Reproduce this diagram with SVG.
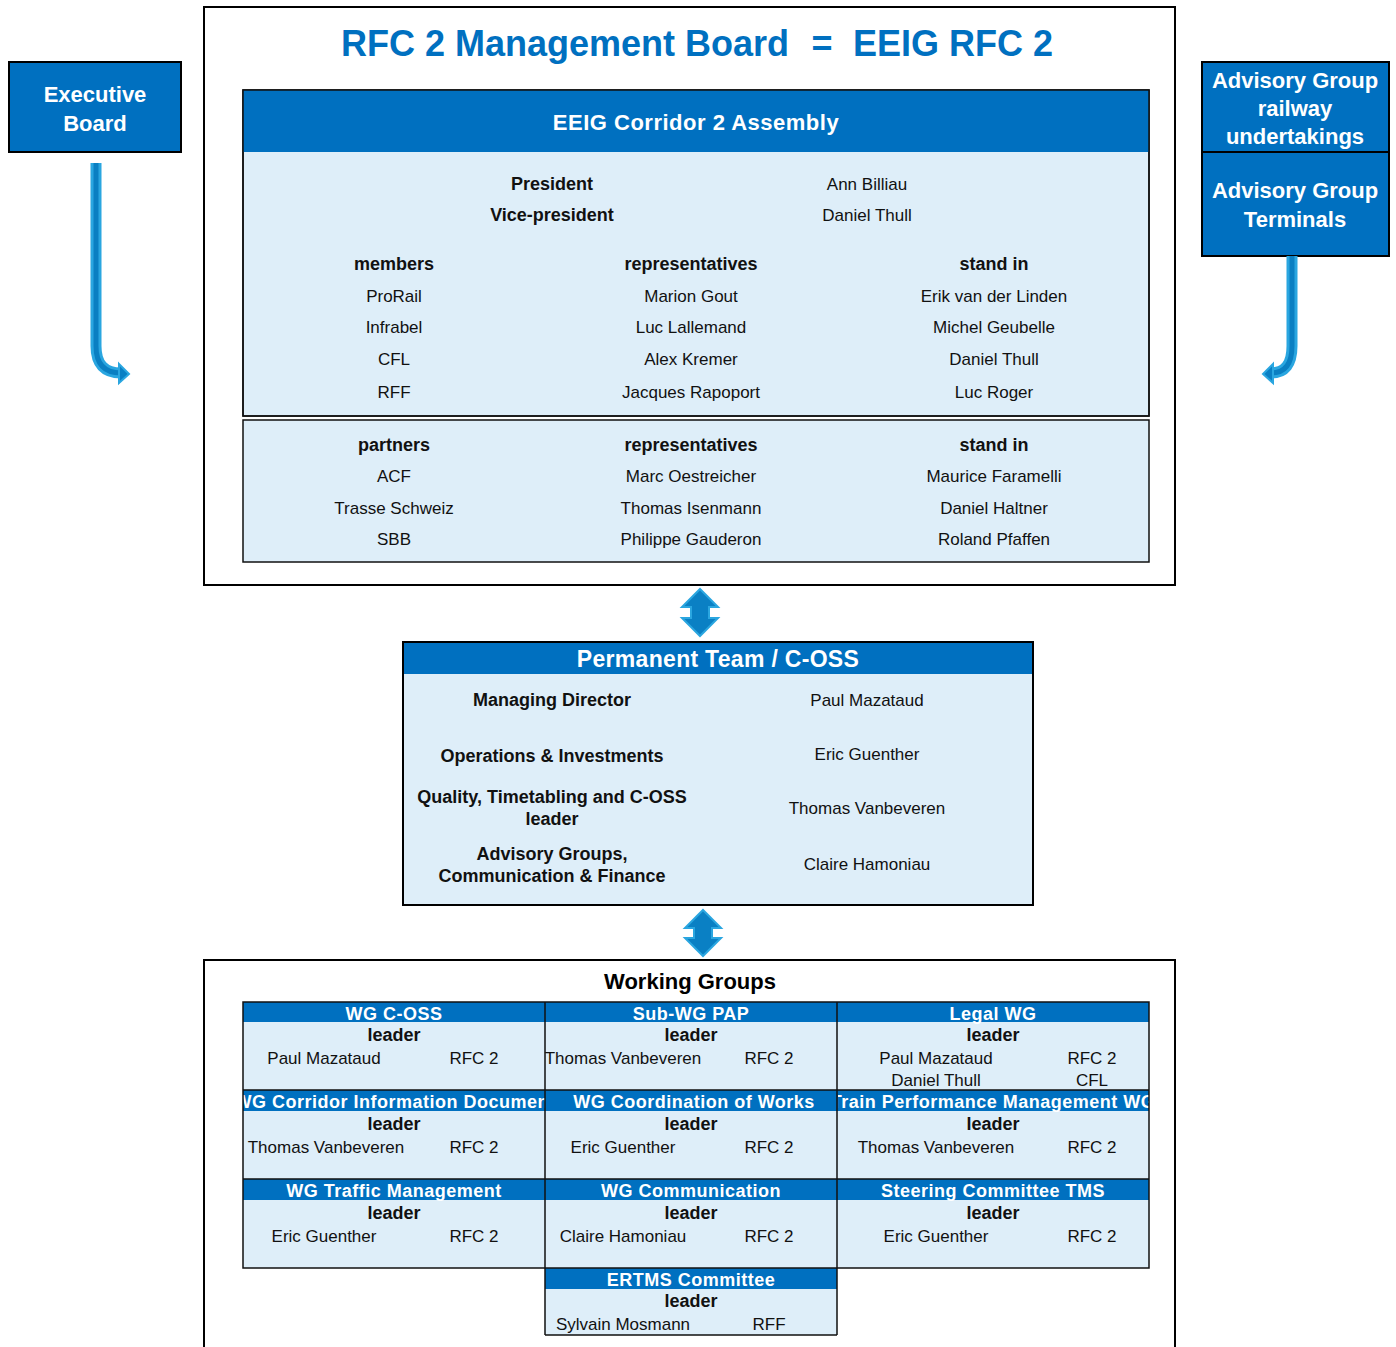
<svg xmlns="http://www.w3.org/2000/svg" width="1396" height="1347" viewBox="0 0 1396 1347">
<style>
text{font-family:"Liberation Sans",Arial,sans-serif;text-anchor:middle}
.r{font-size:17px;fill:#111}
.b{font-size:18px;font-weight:bold;fill:#111}
.hw{font-size:18px;font-weight:bold;fill:#fff;letter-spacing:0.5px}
.big{font-size:22px;font-weight:bold;fill:#fff}
.wgt{font-size:22px;font-weight:bold;fill:#000}
.title{font-size:36px;font-weight:bold;fill:#0070C0}
.blue{fill:#0070C0}
.lb{fill:#DEEEF9}
.ln{fill:none;stroke:#111;stroke-width:1.5}
.box{fill:none;stroke:#000;stroke-width:2}
.aro{fill:none;stroke:#2AA6E0;stroke-width:11;stroke-linecap:butt}
.ari{fill:none;stroke:#0A7FC2;stroke-width:5}
.ah{fill:#0A80C4;stroke:#2AA6E0;stroke-width:2;stroke-linejoin:miter}
</style>
<defs>
<clipPath id="c1"><rect x="243" y="1002" width="302" height="88"/></clipPath>
<clipPath id="c2"><rect x="545" y="1002" width="292" height="88"/></clipPath>
<clipPath id="c3"><rect x="837" y="1002" width="312" height="88"/></clipPath>
<clipPath id="c4"><rect x="243" y="1090" width="302" height="89"/></clipPath>
<clipPath id="c5"><rect x="545" y="1090" width="292" height="89"/></clipPath>
<clipPath id="c6"><rect x="838" y="1090" width="311" height="89"/></clipPath>
</defs>

<g id="executive-board">
<rect x="9" y="62" width="172" height="90" class="blue" stroke="#000" stroke-width="2"/>
<text x="95" y="102" class="big">Executive</text>
<text x="95" y="131" class="big">Board</text>
</g>

<g id="advisory-ru">
<rect x="1202" y="62" width="187" height="90" class="blue" stroke="#000" stroke-width="2"/>
<text x="1295" y="88" class="big">Advisory Group</text>
<text x="1295" y="116" class="big">railway</text>
<text x="1295" y="144" class="big">undertakings</text>
</g>
<g id="advisory-terminals">
<rect x="1202" y="152" width="187" height="104" class="blue" stroke="#000" stroke-width="2"/>
<text x="1295" y="198" class="big">Advisory Group</text>
<text x="1295" y="227" class="big">Terminals</text>
</g>

<g id="management-board">
<rect x="204" y="7" width="971" height="578" fill="#fff" class="box"/>
<text x="565" y="56" class="title">RFC 2 Management Board</text>
<text x="822" y="56" class="title">=</text>
<text x="953" y="56" class="title">EEIG RFC 2</text>
</g>

<g id="assembly">
<rect x="243" y="90" width="906" height="326" class="lb" stroke="#111" stroke-width="1.5"/>
<rect x="243" y="90" width="906" height="62" class="blue"/>
<rect x="243" y="90" width="906" height="326" class="ln"/>
<text x="696" y="130" class="big" letter-spacing="0.5">EEIG Corridor 2 Assembly</text>
<text x="552" y="190" class="b">President</text>
<text x="867" y="190" class="r">Ann Billiau</text>
<text x="552" y="221" class="b">Vice-president</text>
<text x="867" y="221" class="r">Daniel Thull</text>
<text x="394" y="270" class="b">members</text>
<text x="691" y="270" class="b">representatives</text>
<text x="994" y="270" class="b">stand in</text>
<text x="394" y="302" class="r">ProRail</text>
<text x="691" y="302" class="r">Marion Gout</text>
<text x="994" y="302" class="r">Erik van der Linden</text>
<text x="394" y="333" class="r">Infrabel</text>
<text x="691" y="333" class="r">Luc Lallemand</text>
<text x="994" y="333" class="r">Michel Geubelle</text>
<text x="394" y="365" class="r">CFL</text>
<text x="691" y="365" class="r">Alex Kremer</text>
<text x="994" y="365" class="r">Daniel Thull</text>
<text x="394" y="398" class="r">RFF</text>
<text x="691" y="398" class="r">Jacques Rapoport</text>
<text x="994" y="398" class="r">Luc Roger</text>
</g>

<g id="partners">
<rect x="243" y="420" width="906" height="142" class="lb" stroke="#111" stroke-width="1.5"/>
<text x="394" y="451" class="b">partners</text>
<text x="691" y="451" class="b">representatives</text>
<text x="994" y="451" class="b">stand in</text>
<text x="394" y="482" class="r">ACF</text>
<text x="691" y="482" class="r">Marc Oestreicher</text>
<text x="994" y="482" class="r">Maurice Faramelli</text>
<text x="394" y="514" class="r">Trasse Schweiz</text>
<text x="691" y="514" class="r">Thomas Isenmann</text>
<text x="994" y="514" class="r">Daniel Haltner</text>
<text x="394" y="545" class="r">SBB</text>
<text x="691" y="545" class="r">Philippe Gauderon</text>
<text x="994" y="545" class="r">Roland Pfaffen</text>
</g>

<g id="permanent-team">
<rect x="403" y="642" width="630" height="263" class="lb"/>
<rect x="403" y="642" width="630" height="32" class="blue"/>
<rect x="403" y="642" width="630" height="263" class="box"/>
<text x="718" y="667" class="big" style="font-size:23px" letter-spacing="0.3">Permanent Team / C-OSS</text>
<text x="552" y="706" class="b">Managing Director</text>
<text x="867" y="706" class="r">Paul Mazataud</text>
<text x="552" y="762" class="b">Operations &amp; Investments</text>
<text x="867" y="760" class="r">Eric Guenther</text>
<text x="552" y="803" class="b">Quality, Timetabling and C-OSS</text>
<text x="552" y="825" class="b">leader</text>
<text x="867" y="814" class="r">Thomas Vanbeveren</text>
<text x="552" y="860" class="b">Advisory Groups,</text>
<text x="552" y="882" class="b">Communication &amp; Finance</text>
<text x="867" y="870" class="r">Claire Hamoniau</text>
</g>

<g id="working-groups">
<path d="M204,1350 V960 H1175 V1350" class="box"/>
<text x="690" y="989" class="wgt">Working Groups</text>
</g>

<g id="wg-coss">
<rect x="243" y="1002" width="302" height="88" class="lb"/>
<rect x="243" y="1002" width="302" height="20" class="blue"/>
<text x="394" y="1020" class="hw" clip-path="url(#c1)">WG C-OSS</text>
<text x="394" y="1041" class="b">leader</text>
<text x="324" y="1064" class="r">Paul Mazataud</text>
<text x="474" y="1064" class="r">RFC 2</text>
</g>
<g id="subwg-pap">
<rect x="545" y="1002" width="292" height="88" class="lb"/>
<rect x="545" y="1002" width="292" height="20" class="blue"/>
<text x="691" y="1020" class="hw" clip-path="url(#c2)">Sub-WG PAP</text>
<text x="691" y="1041" class="b">leader</text>
<text x="623" y="1064" class="r">Thomas Vanbeveren</text>
<text x="769" y="1064" class="r">RFC 2</text>
</g>
<g id="legal-wg">
<rect x="837" y="1002" width="312" height="88" class="lb"/>
<rect x="837" y="1002" width="312" height="20" class="blue"/>
<text x="993" y="1020" class="hw" clip-path="url(#c3)">Legal WG</text>
<text x="993" y="1041" class="b">leader</text>
<text x="936" y="1064" class="r">Paul Mazataud</text>
<text x="1092" y="1064" class="r">RFC 2</text>
<text x="936" y="1086" class="r">Daniel Thull</text>
<text x="1092" y="1086" class="r">CFL</text>
</g>
<g id="wg-cid">
<rect x="243" y="1090" width="302" height="89" class="lb"/>
<rect x="243" y="1090" width="302" height="21" class="blue"/>
<text x="395" y="1108" class="hw" clip-path="url(#c4)">WG Corridor Information Document</text>
<text x="394" y="1130" class="b">leader</text>
<text x="326" y="1153" class="r">Thomas Vanbeveren</text>
<text x="474" y="1153" class="r">RFC 2</text>
</g>
<g id="wg-works">
<rect x="545" y="1090" width="292" height="89" class="lb"/>
<rect x="545" y="1090" width="292" height="21" class="blue"/>
<text x="694" y="1108" class="hw" clip-path="url(#c5)">WG Coordination of Works</text>
<text x="691" y="1130" class="b">leader</text>
<text x="623" y="1153" class="r">Eric Guenther</text>
<text x="769" y="1153" class="r">RFC 2</text>
</g>
<g id="tpm-wg">
<rect x="837" y="1090" width="312" height="89" class="lb"/>
<rect x="837" y="1090" width="312" height="21" class="blue"/>
<text x="993" y="1108" class="hw" clip-path="url(#c6)">Train Performance Management WG</text>
<text x="993" y="1130" class="b">leader</text>
<text x="936" y="1153" class="r">Thomas Vanbeveren</text>
<text x="1092" y="1153" class="r">RFC 2</text>
</g>
<g id="wg-traffic">
<rect x="243" y="1179" width="302" height="89" class="lb"/>
<rect x="243" y="1179" width="302" height="21" class="blue"/>
<text x="394" y="1197" class="hw">WG Traffic Management</text>
<text x="394" y="1219" class="b">leader</text>
<text x="324" y="1242" class="r">Eric Guenther</text>
<text x="474" y="1242" class="r">RFC 2</text>
</g>
<g id="wg-communication">
<rect x="545" y="1179" width="292" height="89" class="lb"/>
<rect x="545" y="1179" width="292" height="21" class="blue"/>
<text x="691" y="1197" class="hw">WG Communication</text>
<text x="691" y="1219" class="b">leader</text>
<text x="623" y="1242" class="r">Claire Hamoniau</text>
<text x="769" y="1242" class="r">RFC 2</text>
</g>
<g id="steering-tms">
<rect x="837" y="1179" width="312" height="89" class="lb"/>
<rect x="837" y="1179" width="312" height="21" class="blue"/>
<text x="993" y="1197" class="hw">Steering Committee TMS</text>
<text x="993" y="1219" class="b">leader</text>
<text x="936" y="1242" class="r">Eric Guenther</text>
<text x="1092" y="1242" class="r">RFC 2</text>
</g>
<g id="ertms">
<rect x="545" y="1268" width="292" height="67" class="lb"/>
<rect x="545" y="1268" width="292" height="21" class="blue"/>
<text x="691" y="1286" class="hw">ERTMS Committee</text>
<text x="691" y="1307" class="b">leader</text>
<text x="623" y="1330" class="r">Sylvain Mosmann</text>
<text x="769" y="1330" class="r">RFF</text>
</g>
<g id="wg-grid">
<rect x="243" y="1002" width="906" height="266" class="ln"/>
<path d="M243,1090 H1149 M243,1179 H1149 M545,1002 V1335 M837,1002 V1335 M545,1335 H837" class="ln"/>
</g>

<g id="connectors">
<path d="M96,163 V346 Q96,373 121,373" class="aro"/>
<path d="M96,163 V346 Q96,373 121,373" class="ari"/>
<polygon points="119,364 129,374 119,383" class="ah"/>
<path d="M1292,256 V346 Q1292,373 1271,373" class="aro"/>
<path d="M1292,256 V346 Q1292,373 1271,373" class="ari"/>
<polygon points="1273,364 1263,374 1273,383" class="ah"/>
<polygon points="700,589 718,607 709,607 709,618 718,618 700,636 682,618 691,618 691,607 682,607" class="ah"/>
<polygon points="703,910 721,928 712,928 712,938 721,938 703,956 685,938 694,938 694,928 685,928" class="ah"/>
</g>
</svg>
